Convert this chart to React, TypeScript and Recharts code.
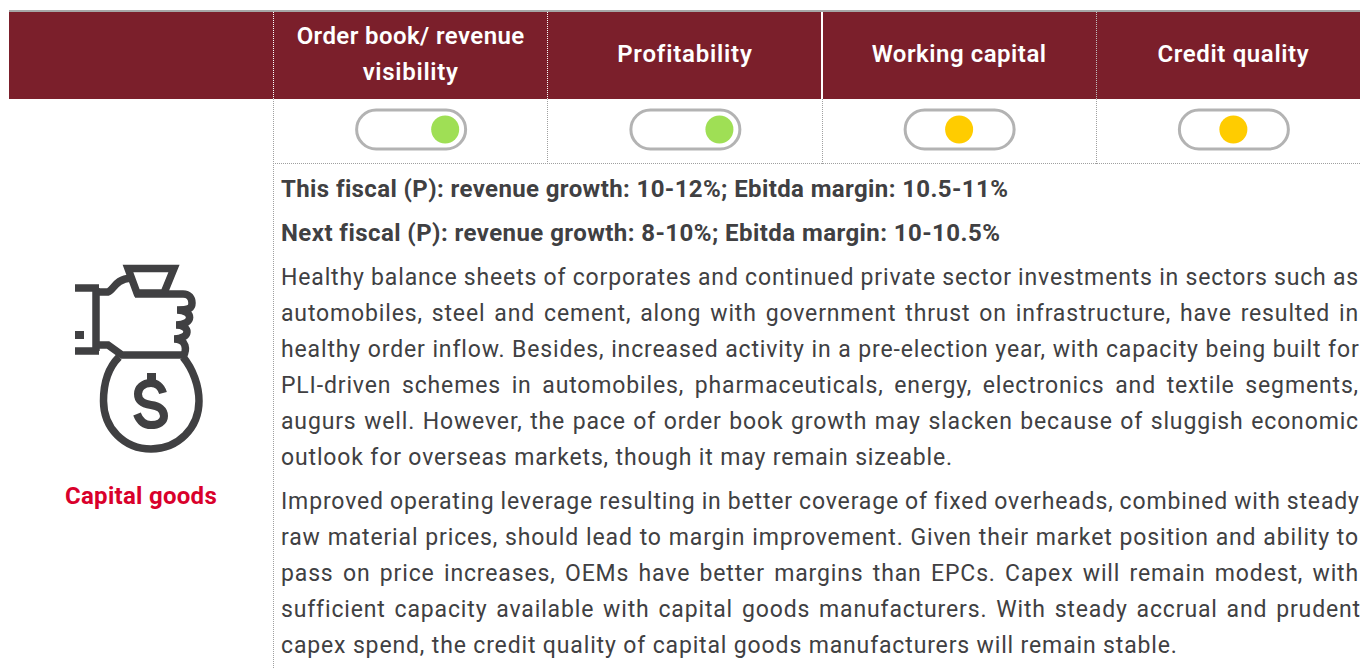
import React from "react";
import {Scatter, ScatterChart, XAxis, YAxis} from "recharts";

const categories = [
    ["Order book/ revenue", "visibility"],
    ["Profitability"],
    ["Working capital"],
    ["Credit quality"],
];
// 0 = left of the toggle, 1 = middle, 2 = right
const ratings = [2, 2, 1, 1];
const ratingColors = ["#e2001a", "#ffcc00", "#9fdf55"];

const sectorName = "Capital goods";
const outlookLines = [
    "This fiscal (P): revenue growth: 10-12%; Ebitda margin: 10.5-11%",
    "Next fiscal (P): revenue growth: 8-10%; Ebitda margin: 10-10.5%",
];
const paragraphOne = [
    "Healthy balance sheets of corporates and continued private sector investments in sectors such as",
    "automobiles, steel and cement, along with government thrust on infrastructure, have resulted in",
    "healthy order inflow. Besides, increased activity in a pre-election year, with capacity being built for",
    "PLI-driven schemes in automobiles, pharmaceuticals, energy, electronics and textile segments,",
    "augurs well. However, the pace of order book growth may slacken because of sluggish economic",
    "outlook for overseas markets, though it may remain sizeable.",
];
const paragraphTwo = [
    "Improved operating leverage resulting in better coverage of fixed overheads, combined with steady",
    "raw material prices, should lead to margin improvement. Given their market position and ability to",
    "pass on price increases, OEMs have better margins than EPCs. Capex will remain modest, with",
    "sufficient capacity available with capital goods manufacturers. With steady accrual and prudent",
    "capex spend, the credit quality of capital goods manufacturers will remain stable.",
];

const FONT = "Roboto";
const TEXT_COLOR = "#404042";
const TRACK_OFFSET = 0.126;

const chartData = categories.map((c, i) => ({x: i + 0.5, y: 0.5}));
const dotData = ratings.map((r, i) => ({
    x: i + 0.5 + (r - 1) * TRACK_OFFSET,
    y: 0.5,
    fill: ratingColors[r],
}));

const ctx = document.createElement("canvas").getContext("2d")!;

function textWidth(text: string, font: string) {
    ctx.font = font;
    return ctx.measureText(text).width;
}

// letter spacing that makes a string take the width it has in the picture
function fit(text: string, font: string, width: number) {
    return (width - textWidth(text, font)) / text.length;
}

const BODY_FONT = `400 23px ${FONT}`;
const bodySpacing = fit(paragraphOne[5], BODY_FONT, 672);

function BodyLine({text, y, justify}: any) {
    const natural = textWidth(text, BODY_FONT) + bodySpacing * text.length;
    const gaps = text.split(" ").length - 1;
    const wordSpacing = justify ? (1078 - natural) / gaps : 0;
    return (
        <text x={281} y={y} fontFamily={FONT} fontSize={23} fill={TEXT_COLOR}
              letterSpacing={bodySpacing} wordSpacing={wordSpacing}>
            {text}
        </text>
    );
}

function HeaderTick({x, index}: any) {
    const lines = categories[index];
    const widths = [[228, 96], [135], [175], [152]][index];
    const font = `600 24px ${FONT}`;
    const startY = lines.length > 1 ? 44 : 62;
    return (
        <g>
            {lines.map((line, i) => (
                <text key={line} x={x + 0.5} y={startY + i * 36} textAnchor="middle" fontFamily={FONT}
                      fontSize={24} fontWeight={600} fill="#ffffff"
                      letterSpacing={fit(line, font, widths[i])}>
                    {line}
                </text>
            ))}
        </g>
    );
}

function Track({cx, cy}: any) {
    return <rect x={cx - 53.5} y={cy - 19.5} width={109} height={39} rx={19.5}
                 fill="#ffffff" stroke="#b3b3b3" strokeWidth={3}/>;
}

function Dot({cx, cy, fill}: any) {
    return <circle cx={cx + 0.5} cy={cy} r={14} fill={fill}/>;
}

function MoneyIcon() {
    return (
        <g fill="none" stroke="#404042" strokeWidth={7.5}>
            <path d="M128,268.5 H174 L164,293 H137 Z"/>
            <path d="M75,288 H99 M96,288 V351 M75,351 H99"/>
            <path d="M99,292 H108 C114,290 115,279 131,278"/>
            <path d="M99,345 H108 L122,355 H183"/>
            <path d="M135,294 H183 C189,294 192,298 192,303 C192,308 190,310 177,310 C194,310 194,325 176,325 C191,325 191,339 174,339 C187,339 187,350 183,357"/>
            <path d="M119,357 C107,369 103.5,386 103.5,401 C103.5,428 124,449 151,449 C178,449 199,428 199,401 C199,386 193,369 183,357"/>
            <path d="M163,393 C161,386 156,383 151,383 C143,383 138,388 138,394 C138,401 144,404 151,405 C159,406 164,410 164,416 C164,422 158,425 151,425 C145,425 140,422 137,414" strokeWidth={8}/>
            <path d="M151.5,373 V383 M151.5,425 V428" strokeWidth={9}/>
            <rect x={75} y={331} width={9} height={8} fill="#404042" stroke="none"/>
        </g>
    );
}

function App() {
    const boldFont = `700 24px ${FONT}`;
    const nameFont = `700 24px ${FONT}`;
    return (
        <div style={{position: "absolute", left: 0, top: 0, width: 1360, height: 668, overflow: "hidden", background: "#ffffff"}}>
            <ScatterChart width={1370} height={668} margin={{top: 11, right: 0, bottom: 508, left: 273}}>
                <rect x={9} y={10} width={1361} height={2} fill="#a6a6a6"/>
                <rect x={9} y={12} width={1361} height={87} fill="#7b1f2b"/>
                <line x1={273.5} y1={12} x2={273.5} y2={99} stroke="#ffffff" strokeDasharray="1 1"/>
                <line x1={547.5} y1={12} x2={547.5} y2={99} stroke="#ffffff" strokeDasharray="1 1"/>
                <line x1={822} y1={12} x2={822} y2={99} stroke="#ffffff" strokeWidth={2}/>
                <line x1={1096.5} y1={12} x2={1096.5} y2={99} stroke="#bfbfbf" strokeDasharray="1 1"/>
                <line x1={273.5} y1={99} x2={273.5} y2={668} stroke="#a0a0a0" strokeDasharray="1 1"/>
                <line x1={547.5} y1={99} x2={547.5} y2={164} stroke="#a0a0a0" strokeDasharray="1 1"/>
                <line x1={822.5} y1={99} x2={822.5} y2={164} stroke="#a0a0a0" strokeDasharray="1 1"/>
                <line x1={1096.5} y1={99} x2={1096.5} y2={164} stroke="#a0a0a0" strokeDasharray="1 1"/>
                <line x1={273} y1={163.5} x2={1370} y2={163.5} stroke="#a0a0a0" strokeDasharray="1 1"/>

                <MoneyIcon/>
                <text x={141} y={504} textAnchor="middle" fontFamily={FONT} fontSize={24} fontWeight={700}
                      fill="#d9002b" letterSpacing={fit(sectorName, nameFont, 152)}>
                    {sectorName}
                </text>

                <text x={281} y={197} fontFamily={FONT} fontSize={24} fontWeight={700} fill={TEXT_COLOR}
                      letterSpacing={fit(outlookLines[0], boldFont, 727)}>
                    {outlookLines[0]}
                </text>
                <text x={281} y={241} fontFamily={FONT} fontSize={24} fontWeight={700} fill={TEXT_COLOR}
                      letterSpacing={fit(outlookLines[1], boldFont, 719)}>
                    {outlookLines[1]}
                </text>
                {paragraphOne.map((line, i) => (
                    <BodyLine key={line} text={line} y={285 + i * 36} justify={i < paragraphOne.length - 1}/>
                ))}
                {paragraphTwo.map((line, i) => (
                    <BodyLine key={line} text={line} y={509 + i * 36} justify={i < paragraphTwo.length - 1}/>
                ))}

                <XAxis type="number" dataKey="x" orientation="top" domain={[0, 4]} height={88}
                       ticks={chartData.map((d) => d.x)} axisLine={false} tickLine={false}
                       tick={<HeaderTick/>}/>
                <YAxis type="number" dataKey="y" domain={[0, 1]} hide/>
                <Scatter data={chartData} shape={<Track/>} isAnimationActive={false}/>
                <Scatter data={dotData} shape={<Dot/>} isAnimationActive={false}/>
            </ScatterChart>
        </div>
    );
}

export default App;
